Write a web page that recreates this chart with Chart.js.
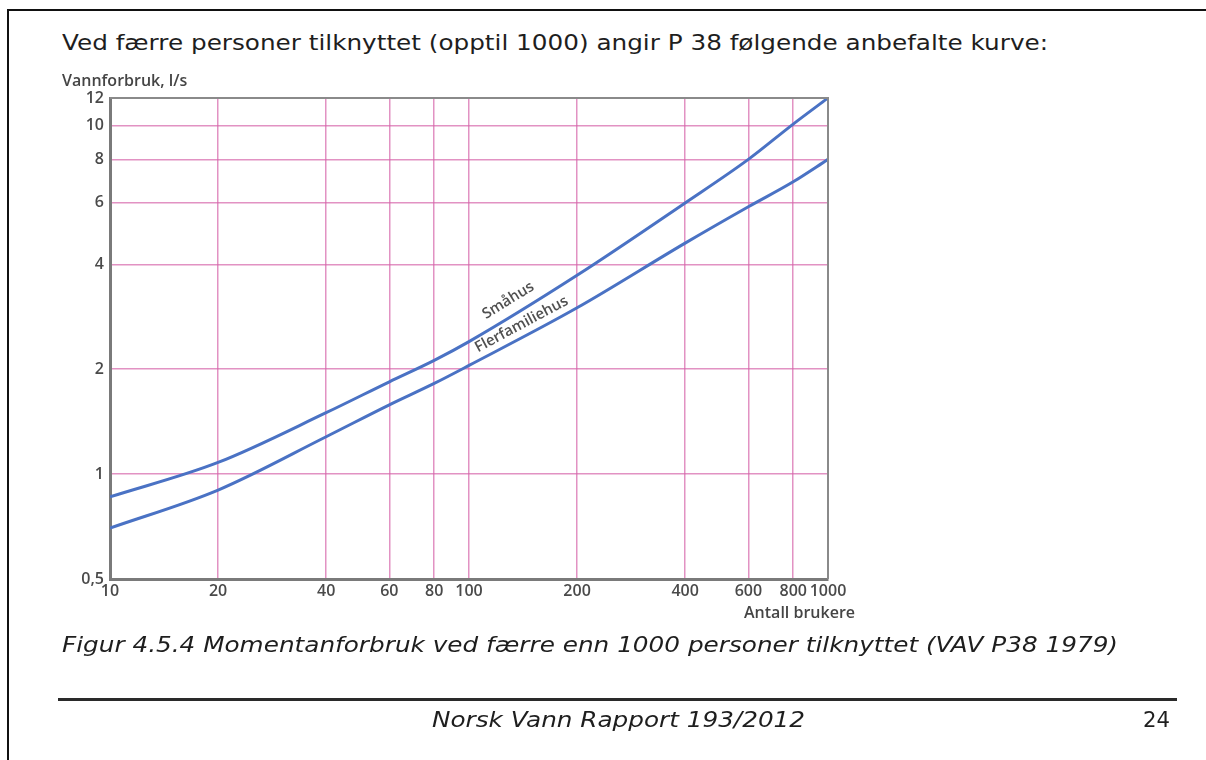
<!DOCTYPE html>
<html>
<head>
<meta charset="utf-8">
<script src="https://cdn.jsdelivr.net/npm/chart.js@4.4.1/dist/chart.umd.min.js"></script>
<style>
  html, body { margin:0; padding:0; background:#fff; }
  body { width:1206px; height:760px; position:relative; overflow:hidden; }
  #frameTop { position:absolute; left:7px; top:9px; width:1199px; height:2px; background:#111; }
  #frameLeft { position:absolute; left:7px; top:9px; width:2px; height:751px; background:#111; }
  canvas#c { position:absolute; left:0; top:0; }
  .txt { position:absolute; white-space:nowrap; color:#1e1e1e; font-family:"DejaVu Sans", Verdana, sans-serif; transform-origin:0 50%; }
  #header { left:62px; top:29px; font-size:22px; line-height:28px; }
  #caption { left:62px; top:631px; font-size:22px; line-height:28px; font-style:italic; }
  #rule { position:absolute; left:58px; top:698px; width:1119px; height:3px; background:#2a2a2a; }
  #foot { left:432px; top:706px; font-size:22px; line-height:28px; font-style:italic; }
  #page { left:1143px; top:706px; font-size:22px; line-height:28px; }
</style>
</head>
<body>
<div id="frameTop"></div>
<div id="frameLeft"></div>
<div class="txt" id="header" data-w="986">Ved færre personer tilknyttet (opptil 1000) angir P 38 følgende anbefalte kurve:</div>
<canvas id="c" width="1206" height="760"></canvas>
<div class="txt" id="caption" data-w="1056">Figur 4.5.4 Momentanforbruk ved færre enn 1000 personer tilknyttet (VAV P38 1979)</div>
<div id="rule"></div>
<div class="txt" id="foot" data-w="373">Norsk Vann Rapport 193/2012</div>
<div class="txt" id="page" data-w="27">24</div>
<script>
// ---- data ----
const users = [10, 20, 40, 60, 80, 100, 200, 400, 600, 800, 1000];
const smahus = [0.86, 1.08, 1.50, 1.84, 2.12, 2.40, 3.72, 6.0, 8.0, 10.1, 12.0];
const flerfamiliehus = [0.70, 0.90, 1.28, 1.58, 1.82, 2.05, 3.0, 4.6, 5.85, 6.9, 8.0];
const xTicks = [10, 20, 40, 60, 80, 100, 200, 400, 600, 800, 1000];
const xTickLabels = ['10', '20', '40', '60', '80', '100', '200', '400', '600', '800', '1000'];
const yTicks = [0.5, 1, 2, 4, 6, 8, 10, 12];
const yTickLabels = ['0,5', '1', '2', '4', '6', '8', '10', '12'];
const seriesNames = ['Småhus', 'Flerfamiliehus'];
const labelAt = [135, 145];           // x-value (users) where the curve label sits
const yAxisTitle = 'Vannforbruk, l/s';
const xAxisTitle = 'Antall brukere';

// fit page text widths (layout only)
document.querySelectorAll('.txt[data-w]').forEach(el => {
  const w = el.getBoundingClientRect().width;
  const target = +el.dataset.w;
  if (w > 0) el.style.transform = 'scaleX(' + (target / w) + ')';
});

const lineColor = '#4a72c4';
const gridColor = 'rgba(214,100,170,0.7)';
const tickFont = { family: '"Open Sans", sans-serif', size: 16, weight: '600' };

const decor = {
  id: 'decor',
  afterDatasetsDraw(chart) {
    const { ctx, chartArea: a, scales: { x, y } } = chart;
    ctx.save();
    // top & right frame
    ctx.strokeStyle = '#8a8a8a';
    ctx.lineWidth = 2;
    ctx.beginPath();
    ctx.moveTo(a.left, a.top); ctx.lineTo(a.right, a.top); ctx.lineTo(a.right, a.bottom);
    ctx.stroke();
    // axis titles
    ctx.fillStyle = '#454545';
    ctx.font = '600 16px "Open Sans", sans-serif';
    ctx.textAlign = 'left'; ctx.textBaseline = 'middle';
    ctx.fillText(yAxisTitle, a.left - 48, a.top - 17);
    ctx.textAlign = 'right';
    ctx.fillText(xAxisTitle, a.right + 27, a.bottom + 34);
    // curve labels
    chart.data.datasets.forEach((ds, i) => {
      const meta = chart.getDatasetMeta(i);
      const xv = labelAt[i];
      let k = 0;
      while (k < users.length - 2 && users[k + 1] < xv) k++;
      const p0 = meta.data[k], p1 = meta.data[k + 1];
      const px = x.getPixelForValue(xv);
      const t = (px - p0.x) / (p1.x - p0.x);
      const py = p0.y + t * (p1.y - p0.y);
      const ang = Math.atan2(p1.y - p0.y, p1.x - p0.x);
      ctx.save();
      ctx.translate(px, py);
      ctx.rotate(ang);
      ctx.font = '600 15px "Open Sans", sans-serif';
      ctx.fillStyle = '#505050';
      ctx.textAlign = 'center'; ctx.textBaseline = 'bottom';
      ctx.fillText(seriesNames[i], 0, i === 0 ? -7 : -4);
      ctx.restore();
    });
    ctx.restore();
  }
};

new Chart(document.getElementById('c'), {
  type: 'line',
  data: {
    datasets: [
      { label: seriesNames[0], data: users.map((u, i) => ({ x: u, y: smahus[i] })) },
      { label: seriesNames[1], data: users.map((u, i) => ({ x: u, y: flerfamiliehus[i] })) }
    ].map(d => Object.assign(d, {
      borderColor: lineColor, borderWidth: 3, pointRadius: 0,
      cubicInterpolationMode: 'monotone', fill: false
    }))
  },
  options: {
    responsive: false,
    animation: false,
    layout: { padding: { left: 60, right: 378, top: 98, bottom: 141 } },
    plugins: { legend: { display: false }, tooltip: { enabled: false } },
    scales: {
      x: {
        type: 'logarithmic', min: 10, max: 1000,
        afterBuildTicks: s => { s.ticks = xTicks.map(v => ({ value: v })); },
        afterFit: s => { s.height = 40; },
        ticks: {
          autoSkip: false, maxRotation: 0, padding: 3,
          color: '#4a4a4a', font: tickFont,
          callback: (v, i) => xTickLabels[i]
        },
        grid: { color: gridColor, lineWidth: 1.5, drawTicks: false },
        border: { color: '#7a7a7a', width: 3 }
      },
      y: {
        type: 'logarithmic', min: 0.5, max: 12,
        afterBuildTicks: s => { s.ticks = yTicks.map(v => ({ value: v })); },
        afterFit: s => { s.width = 50; },
        ticks: {
          autoSkip: false, padding: 6,
          color: '#4a4a4a', font: tickFont,
          callback: (v, i) => yTickLabels[i]
        },
        grid: { color: gridColor, lineWidth: 1.5, drawTicks: false },
        border: { color: '#7a7a7a', width: 3 }
      }
    }
  },
  plugins: [decor]
});
</script>
</body>
</html>
